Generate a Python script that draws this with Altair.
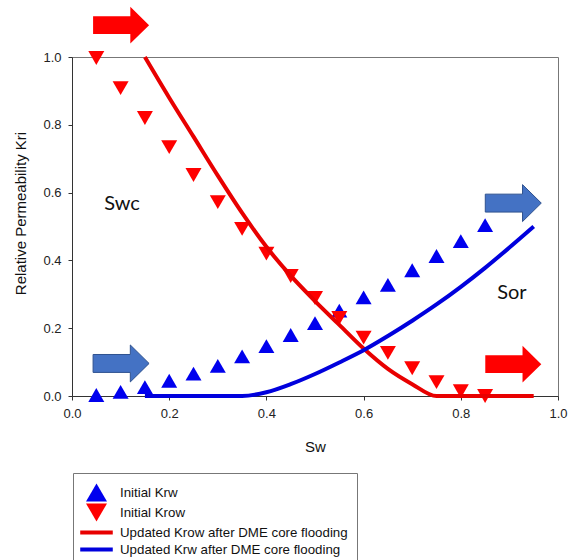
import altair as alt
import pandas as pd

# ---- data ----
sw_points = [0.05, 0.10, 0.15, 0.20, 0.25, 0.30, 0.35, 0.40, 0.45,
             0.50, 0.55, 0.60, 0.65, 0.70, 0.75, 0.80, 0.85]
krw_initial = [0.003, 0.012, 0.026, 0.045, 0.066, 0.089, 0.117, 0.147, 0.180,
               0.215, 0.252, 0.291, 0.328, 0.371, 0.413, 0.457, 0.504]
krow_initial = [0.997, 0.908, 0.820, 0.734, 0.652, 0.572, 0.493, 0.420, 0.354,
                0.289, 0.230, 0.172, 0.127, 0.082, 0.041, 0.014, 0.0]

sw_updated = [0.15, 0.20, 0.25, 0.30, 0.35, 0.40, 0.45, 0.50, 0.55,
              0.60, 0.65, 0.70, 0.75, 0.80, 0.85, 0.90, 0.95]
krow_updated = [1.0, 0.88, 0.765, 0.65, 0.54, 0.44, 0.355, 0.28, 0.21,
                0.14, 0.08, 0.035, 0.0, 0.0, 0.0, 0.0, 0.0]
krw_updated = [0.0, 0.0, 0.0, 0.0, 0.0, 0.011, 0.035, 0.065, 0.099,
               0.135, 0.177, 0.222, 0.27, 0.322, 0.378, 0.438, 0.5]

series_names = ["Initial Krw", "Initial Krow",
                "Updated Krow after DME core flooding",
                "Updated Krw after DME core flooding"]
series_colors = ["#0000ee", "#ff0000", "#e80000", "#0000dd"]
bar_symbol = "M-1.55,-0.19L1.55,-0.19L1.55,0.19L-1.55,0.19Z"
series_shapes = ["triangle-up", "triangle-down", bar_symbol, bar_symbol]

tick_values = [0.0, 0.2, 0.4, 0.6, 0.8, 1.0]

# annotation arrows (data coordinates) and labels
arrow_sw = [0.101, 0.101, 0.908, 0.908]
arrow_kr = [1.094, 0.096, 0.569, 0.094]
arrow_kind = ["red", "blue", "blue", "red"]

label_text = ["Swc", "Sor"]
label_sw = [0.103, 0.905]
label_kr = [0.566, 0.304]

# ---- tables ----
points_df = pd.concat([
    pd.DataFrame({"Sw": sw_points, "Kr": krw_initial, "series": series_names[0]}),
    pd.DataFrame({"Sw": sw_points, "Kr": krow_initial, "series": series_names[1]}),
])
lines_df = pd.concat([
    pd.DataFrame({"Sw": sw_updated, "Kr": krow_updated, "series": series_names[2]}),
    pd.DataFrame({"Sw": sw_updated, "Kr": krw_updated, "series": series_names[3]}),
])
arrows_df = pd.DataFrame({"Sw": arrow_sw, "Kr": arrow_kr, "kind": arrow_kind})
labels_df = pd.DataFrame({"Sw": label_sw, "Kr": label_kr, "text": label_text})

FONT = "Liberation Sans"

x_scale = alt.Scale(domain=[0, 1], nice=False, zero=False)
y_scale = alt.Scale(domain=[0, 1], nice=False, zero=False)

x_axis = alt.Axis(values=tick_values, format=".1f", grid=False, tickSize=4,
                  labelPadding=7, titlePadding=19, title="Sw", labelFlush=False)
y_axis = alt.Axis(values=tick_values, format=".1f", grid=False, tickSize=4,
                  labelPadding=7, titlePadding=14, title="Relative Permeability Kri",
                  titleY=156, labelFlush=False)

legend = alt.Legend(
    title=None, orient="none", legendX=1, legendY=416,
    padding=9, strokeColor="#777", fillColor="white",
    labelFont=FONT, labelFontSize=13.3, labelColor="#111", labelOffset=13,
    labelLimit=400, rowPadding=0, symbolSize=441, symbolStrokeWidth=0,
    symbolOffset=4, symbolOpacity=1,
)

color_enc = alt.Color("series:N", scale=alt.Scale(domain=series_names, range=series_colors),
                      legend=legend)
shape_enc = alt.Shape("series:N", scale=alt.Scale(domain=series_names, range=series_shapes),
                      legend=legend)

x_enc = alt.X("Sw:Q", scale=x_scale, axis=x_axis)
y_enc = alt.Y("Kr:Q", scale=y_scale, axis=y_axis)

points = alt.Chart(points_df).mark_point(filled=True, size=256, opacity=1).encode(
    x=x_enc, y=y_enc, color=color_enc, shape=shape_enc,
    order=alt.Order("series:N", sort="descending"),
)

lines = alt.Chart(lines_df).mark_line(strokeWidth=4, interpolate="monotone").encode(
    x=x_enc, y=y_enc, color=color_enc, detail="series:N",
)

arrow_path = "M-1,-0.32L0.33,-0.32L0.33,-0.66L1,0L0.33,0.66L0.33,0.32L-1,0.32Z"

red_arrows = alt.Chart(arrows_df).transform_filter(alt.datum.kind == "red").mark_point(
    shape=arrow_path, size=3136, filled=True, color="#ff0000", opacity=1
).encode(x="Sw:Q", y="Kr:Q")

blue_arrows = alt.Chart(arrows_df).transform_filter(alt.datum.kind == "blue").mark_point(
    shape=arrow_path, size=3136, filled=True, fill="#4472c4", stroke="#2f528f",
    strokeWidth=1, opacity=1
).encode(x="Sw:Q", y="Kr:Q")

texts = alt.Chart(labels_df).mark_text(font="Lato", fontSize=20, color="#111").encode(
    x="Sw:Q", y="Kr:Q", text="text:N"
)

chart = alt.layer(points, lines, red_arrows, blue_arrows, texts).properties(
    width=486, height=339,
    autosize=alt.AutoSizeParams(type="none"),
    padding={"left": 72, "top": 57, "right": 12, "bottom": 164},
    background="white",
).configure_view(
    stroke="#777", strokeWidth=1
).configure_axis(
    labelFont=FONT, labelFontSize=13, labelColor="#222",
    titleFont=FONT, titleFontSize=15, titleFontWeight="normal", titleColor="#111",
    domainColor="#333", tickColor="#333",
)

chart.save("out.html", embed_options={"renderer": "svg", "actions": False})
